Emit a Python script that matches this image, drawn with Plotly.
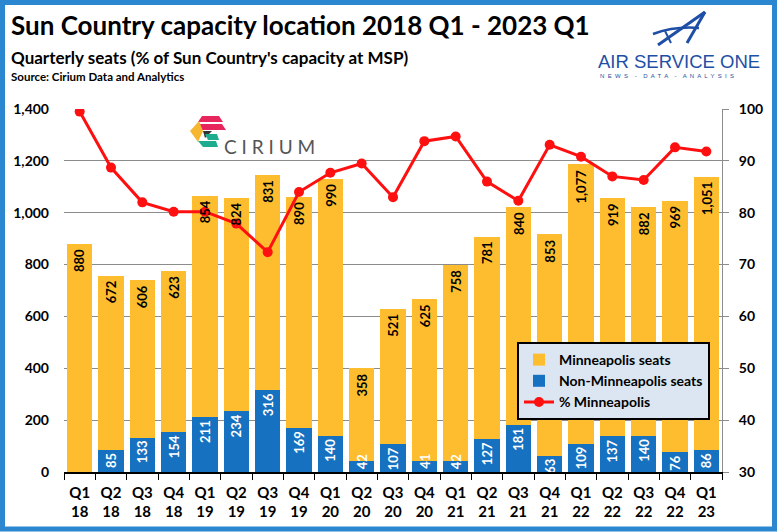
import plotly.graph_objects as go

# ---------------- data ----------------
quarters = ["Q1<br>18", "Q2<br>18", "Q3<br>18", "Q4<br>18",
            "Q1<br>19", "Q2<br>19", "Q3<br>19", "Q4<br>19",
            "Q1<br>20", "Q2<br>20", "Q3<br>20", "Q4<br>20",
            "Q1<br>21", "Q2<br>21", "Q3<br>21", "Q4<br>21",
            "Q1<br>22", "Q2<br>22", "Q3<br>22", "Q4<br>22",
            "Q1<br>23"]
minneapolis_seats = [880, 672, 606, 623, 854, 824, 831, 890, 990, 358, 521,
                     625, 758, 781, 840, 853, 1077, 919, 882, 969, 1051]
non_minneapolis_seats = [0, 85, 133, 154, 211, 234, 316, 169, 140, 42, 107,
                         41, 42, 127, 181, 63, 109, 137, 140, 76, 86]
pct_minneapolis = [99.5, 88.7, 82.0, 80.2, 80.2, 77.9, 72.4, 84.0, 87.7, 89.5,
                   83.0, 93.8, 94.7, 86.0, 82.3, 93.1, 90.8, 87.0, 86.3, 92.6, 91.8]

left_ticks = [0, 200, 400, 600, 800, 1000, 1200, 1400]
right_ticks = [30, 40, 50, 60, 70, 80, 90, 100]

# ---------------- style ----------------
W, H = 777, 532
L, R, T, B = 64, 722, 109, 472
FONT = "Lato"
YEL = "#FDBD2F"
BLUE = "#1672C0"
RED = "#FF1010"
FRAME = "#2B87CF"
SMALL = 50  # labels of bars shorter than this are drawn from the bar base upward


def xp(px):
    return (px - L) / (R - L)


def yp(py):
    return (B - py) / (B - T)


def path(points):
    s = "M " + " L ".join(f"{xp(x):.5f},{yp(y):.5f}" for x, y in points)
    return s + " Z"


non_text = [f"{v:,}" if v >= SMALL else "" for v in non_minneapolis_seats]

fig = go.Figure()
fig.add_bar(x=quarters, y=non_minneapolis_seats, name="Non-Minneapolis seats",
            marker=dict(color=BLUE, line=dict(width=0)), text=non_text,
            textangle=-90, textposition="inside", constraintext="none",
            insidetextanchor="end", cliponaxis=False, hoverinfo="skip",
            textfont=dict(color="white", size=13, family=FONT, weight="bold"),
            legendrank=2)
fig.add_bar(x=quarters, y=minneapolis_seats, name="Minneapolis seats",
            marker=dict(color=YEL, line=dict(width=0)), hoverinfo="skip",
            legendrank=1)
fig.add_scatter(x=quarters, y=pct_minneapolis, yaxis="y2", name="% Minneapolis",
                mode="lines+markers", line=dict(color=RED, width=3),
                marker=dict(color=RED, size=10), legendrank=3, hoverinfo="skip")

shapes = [
    # blue frame
    dict(type="rect", xref="paper", yref="paper", x0=xp(2.5), x1=xp(774.5),
         y0=yp(529), y1=yp(2.5), line=dict(color=FRAME, width=5), layer="above"),
    # Cirium icon
    dict(type="path", xref="paper", yref="paper", path=path([(202, 116), (219, 116), (223, 122), (198, 122)]),
         fillcolor="#E8265E", line=dict(width=0)),
    dict(type="path", xref="paper", yref="paper", path=path([(197, 124), (222, 124), (226, 130), (202, 130)]),
         fillcolor="#E8265E", line=dict(width=0)),
    dict(type="path", xref="paper", yref="paper", path=path([(199, 121), (190, 131), (198, 142), (203, 131)]),
         fillcolor="#F5B731", line=dict(width=0)),
    dict(type="path", xref="paper", yref="paper", path=path([(203, 131), (212, 131), (205, 138)]),
         fillcolor="#333333", line=dict(width=0)),
    dict(type="path", xref="paper", yref="paper", path=path([(205, 134), (217, 134), (219, 140), (208, 140)]),
         fillcolor="#1DAD8E", line=dict(width=0)),
    dict(type="path", xref="paper", yref="paper", path=path([(198, 141), (216, 141), (218, 147), (203, 147)]),
         fillcolor="#1DAD8E", line=dict(width=0)),
    # Air Service One "A"
    dict(type="path", xref="paper", yref="paper",
         path=f"M {xp(705):.5f},{yp(12):.5f} L {xp(658):.5f},{yp(45):.5f}",
         line=dict(color="#1E4FA6", width=3)),
    dict(type="path", xref="paper", yref="paper",
         path=f"M {xp(705):.5f},{yp(12):.5f} L {xp(687):.5f},{yp(43):.5f}",
         line=dict(color="#1E4FA6", width=3)),
    dict(type="path", xref="paper", yref="paper",
         path=f"M {xp(653):.5f},{yp(34):.5f} Q {xp(675):.5f},{yp(26):.5f} {xp(699):.5f},{yp(28):.5f}",
         line=dict(color="#1E4FA6", width=2.5)),
    dict(type="path", xref="paper", yref="paper",
         path=f"M {xp(665):.5f},{yp(31):.5f} L {xp(671):.5f},{yp(43):.5f}",
         line=dict(color="#1E4FA6", width=2)),
]

annotations = [
    dict(text="<b>Sun Country capacity location 2018 Q1 - 2023 Q1</b>", x=xp(9), y=yp(25),
         font=dict(family=FONT, size=26, color="black")),
    dict(text="<b>Quarterly seats (% of Sun Country's capacity at MSP)</b>", x=xp(9), y=yp(57),
         font=dict(family=FONT, size=17, color="black")),
    dict(text="<b>Source: Cirium Data and Analytics</b>", x=xp(9), y=yp(76),
         font=dict(family=FONT, size=11.5, color="black")),
    dict(text="C I R I U M", x=xp(222), y=yp(146),
         font=dict(family=FONT, size=19, color="#555555")),
    dict(text="AIR SERVICE ONE", x=xp(596), y=yp(61),
         font=dict(family="Liberation Sans", size=18.5, color="#1E4FA6")),
    dict(text="N  E  W  S    -    D  A  T  A    -    A  N  A  L  Y  S  I  S", x=xp(598), y=yp(76),
         font=dict(family="Liberation Sans", size=6, color="#1E4FA6")),
]
for a in annotations:
    a.update(xref="paper", yref="paper", xanchor="left", yanchor="middle", showarrow=False)

# data labels (drawn above the line, as in the original)
for q, v, m in zip(quarters, non_minneapolis_seats, minneapolis_seats):
    if 0 < v < SMALL:
        annotations.append(dict(x=q, y=0, xref="x", yref="y", text=f"<b>{v:,}</b>",
                                textangle=-90, showarrow=False, xanchor="center",
                                yanchor="bottom", yshift=1,
                                font=dict(family=FONT, size=13, color="white")))
    annotations.append(dict(x=q, y=v + m, xref="x", yref="y", text=f"<b>{m:,}</b>",
                            textangle=-90, showarrow=False, xanchor="center",
                            yanchor="top", yshift=-3,
                            font=dict(family=FONT, size=13, color="black")))

fig.update_layout(
    width=W, height=H,
    margin=dict(l=L, r=W - R, t=T, b=H - B, pad=0),
    paper_bgcolor="white", plot_bgcolor="white",
    barmode="stack", bargap=0.2,
    font=dict(family=FONT, color="black"),
    showlegend=True,
    legend=dict(x=xp(517), y=yp(342), xanchor="left", yanchor="top",
                traceorder="normal",
                bgcolor="#DCE6F2", bordercolor="black", borderwidth=2,
                font=dict(family=FONT, size=14, color="black", weight="bold"),
                tracegroupgap=0, itemwidth=30),
    xaxis=dict(type="category", range=[-0.5, len(quarters) - 0.5],
               showline=True, linecolor="black", linewidth=1.5,
               ticks="outside", tickson="boundaries", ticklen=6, tickcolor="black",
               ticklabelstandoff=6,
               tickfont=dict(family=FONT, size=15, color="black", weight="bold"),
               showgrid=False, fixedrange=True),
    yaxis=dict(range=[0, 1400], tickvals=left_ticks, tickformat=",",
               showgrid=True, gridcolor="#8C8C8C", gridwidth=1,
               zeroline=False, showline=False, ticks="",
               ticklabelstandoff=14,
               tickfont=dict(family=FONT, size=14, color="black", weight="bold")),
    yaxis2=dict(range=[30, 100], tickvals=right_ticks, overlaying="y", side="right",
                showgrid=False, zeroline=False, showline=True, linecolor="#8C8C8C",
                linewidth=1, ticks="outside", ticklen=6, tickcolor="#8C8C8C",
                ticklabelstandoff=7,
                tickfont=dict(family=FONT, size=14, color="black", weight="bold")),
    shapes=shapes,
    annotations=annotations,
)

fig.write_html("out.html")
